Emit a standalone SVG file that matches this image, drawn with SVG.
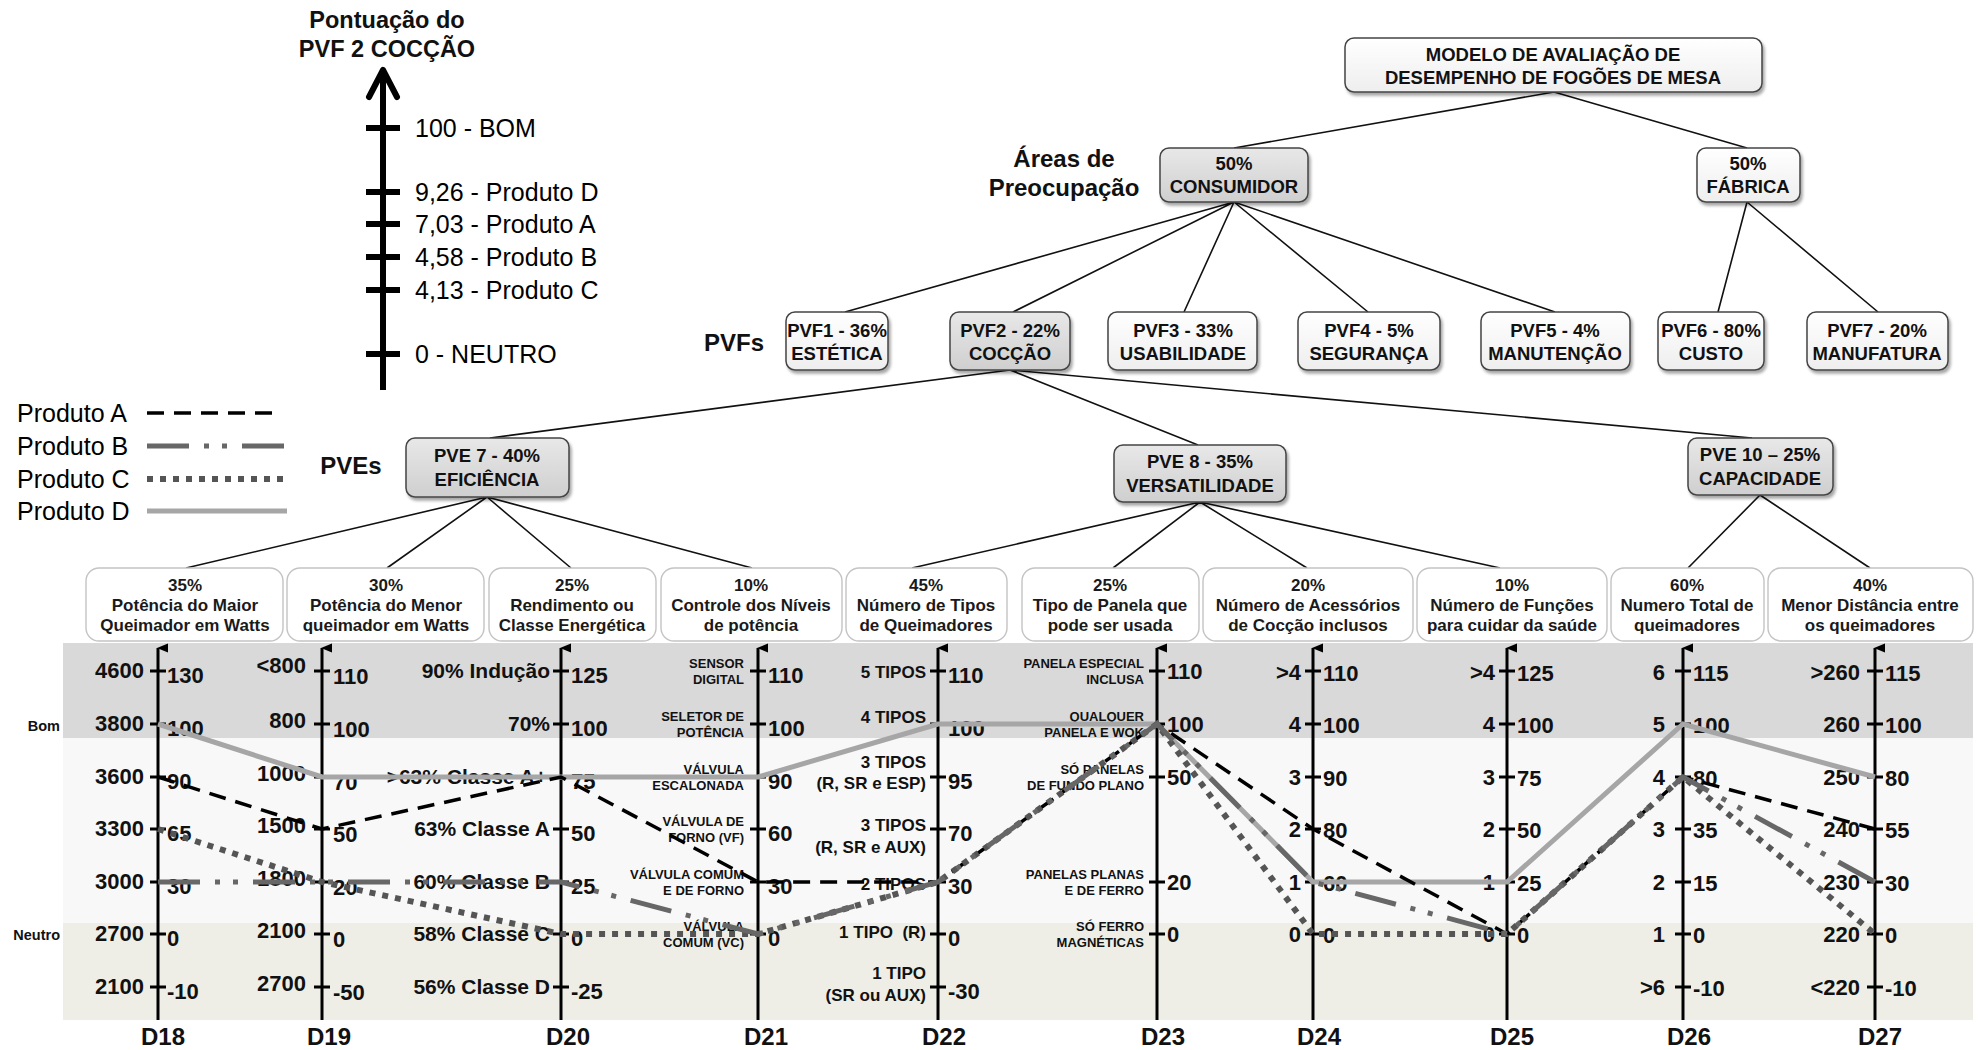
<svg xmlns="http://www.w3.org/2000/svg" width="1981" height="1050" viewBox="0 0 1981 1050">
  <defs>
    <style>
      .tNode { font: bold 18.5px "Liberation Sans", Arial, sans-serif; text-anchor: middle; fill: #111; }
      .tLvl { font: bold 24px "Liberation Sans", Arial, sans-serif; text-anchor: middle; fill: #111; }
      .tCrit { font: bold 17px "Liberation Sans", Arial, sans-serif; text-anchor: middle; fill: #1a1a1a; }
      .tNumL { font: bold 22px "Liberation Sans", Arial, sans-serif; text-anchor: end; fill: #111; }
      .tNumR { font: bold 22px "Liberation Sans", Arial, sans-serif; text-anchor: start; fill: #111; }
      .tCap { font: bold 13px "Liberation Sans", Arial, sans-serif; text-anchor: end; fill: #111; }
      .tCls { font: bold 21px "Liberation Sans", Arial, sans-serif; text-anchor: end; fill: #111; }
      .tTip { font: bold 17px "Liberation Sans", Arial, sans-serif; text-anchor: end; fill: #111; white-space: pre; }
      .tAxis { font: bold 24px "Liberation Sans", Arial, sans-serif; text-anchor: middle; fill: #111; }
      .tScale { font: 25px "Liberation Sans", Arial, sans-serif; fill: #000; }
      .tBand { font: bold 14.5px "Liberation Sans", Arial, sans-serif; text-anchor: end; fill: #111; }
      .box { stroke: #444; stroke-width: 1.5; filter: url(#shadow); }
      .wbox { fill: url(#gWhite); }
      .gbox { fill: url(#gGray); }
      .crit { fill: #fff; stroke: #c4c4c4; stroke-width: 1.4; }
      .link { stroke: #111; stroke-width: 1.6; fill: none; }
      .axis { stroke: #000; stroke-width: 3; fill: none; }
      .tick { stroke: #000; stroke-width: 3; fill: none; }
      .pA { stroke: #000; stroke-width: 3.5; stroke-dasharray: 17 10; fill: none; }
      .pB { stroke: #676767; stroke-width: 5; stroke-dasharray: 42 15 5 13 5 15; fill: none; }
      .pC { stroke: #555; stroke-width: 6; stroke-dasharray: 6 7; fill: none; }
      .pD { stroke: #a6a6a6; stroke-width: 5; fill: none; }
    </style>
    <linearGradient id="gWhite" x1="0" y1="0" x2="0" y2="1">
      <stop offset="0" stop-color="#ffffff"/>
      <stop offset="1" stop-color="#eeeeee"/>
    </linearGradient>
    <linearGradient id="gGray" x1="0" y1="0" x2="0" y2="1">
      <stop offset="0" stop-color="#e8e8e8"/>
      <stop offset="1" stop-color="#cfcfcf"/>
    </linearGradient>
    <filter id="shadow" x="-10%" y="-15%" width="125%" height="145%">
      <feDropShadow dx="2" dy="3" stdDeviation="1.5" flood-color="#000" flood-opacity="0.35"/>
    </filter>
    <marker id="axisHead" markerWidth="10" markerHeight="12" refX="5" refY="1" orient="auto-start-reverse" markerUnits="userSpaceOnUse" viewBox="0 0 10 12">
      <path d="M5 0 L9.5 11 L0.5 11 Z" fill="#000"/>
    </marker>
  </defs>

  <rect width="1981" height="1050" fill="#fff"/>

  <!-- score scale of PVF 2 -->
  <g id="score-scale">
    <text class="tLvl" x="387" y="28" style="font-size:23.5px">Pontuação do</text>
    <text class="tLvl" x="387" y="57" style="font-size:23.5px">PVF 2 COCÇÃO</text>
    <line x1="383" y1="73" x2="383" y2="390" stroke="#000" stroke-width="6"/>
    <polyline points="369,97 383,70 397,97" fill="none" stroke="#000" stroke-width="6" stroke-linecap="round" stroke-linejoin="round"/>
    <path d="M366 128 H400 M366 192 H400 M366 224 H400 M366 257 H400 M366 290 H400 M366 354 H400" stroke="#000" stroke-width="6"/>
    <text class="tScale" x="415" y="137">100 - BOM</text>
    <text class="tScale" x="415" y="201">9,26 - Produto D</text>
    <text class="tScale" x="415" y="233">7,03 - Produto A</text>
    <text class="tScale" x="415" y="266">4,58 - Produto B</text>
    <text class="tScale" x="415" y="299">4,13 - Produto C</text>
    <text class="tScale" x="415" y="363">0 - NEUTRO</text>
  </g>

  <!-- legend -->
  <g id="legend">
    <text class="tScale" x="17" y="422">Produto A</text>
    <text class="tScale" x="17" y="455">Produto B</text>
    <text class="tScale" x="17" y="488">Produto C</text>
    <text class="tScale" x="17" y="520">Produto D</text>
    <line class="pA" x1="147" y1="413" x2="274" y2="413"/>
    <line class="pB" x1="147" y1="446" x2="287" y2="446"/>
    <line class="pC" x1="147" y1="479" x2="287" y2="479"/>
    <line class="pD" x1="147" y1="511" x2="287" y2="511"/>
  </g>

  <!-- level captions -->
  <g id="level-labels">
    <text class="tLvl" x="1064" y="167">Áreas de</text>
    <text class="tLvl" x="1064" y="196">Preocupação</text>
    <text class="tLvl" x="734" y="351">PVFs</text>
    <text class="tLvl" x="351" y="474">PVEs</text>
  </g>

  <!-- tree connectors -->
  <g id="connectors" class="link">
    <path d="M1554 92 L1234 148 M1554 92 L1747 148"/>
    <path d="M1234 202 L845 312 M1234 202 L1013 312 M1234 202 L1184 312 M1234 202 L1368 312 M1234 202 L1555 312"/>
    <path d="M1747 202 L1718 312 M1747 202 L1878 312"/>
    <path d="M1010 370 L490 438 M1010 370 L1198 445 M1010 370 L1752 438"/>
    <path d="M487 497 L186 568 M487 497 L387 568 M487 497 L571 568 M487 497 L752 568"/>
    <path d="M1200 502 L912 568 M1200 502 L1113 568 M1200 502 L1307 568 M1200 502 L1500 568"/>
    <path d="M1760 495 L1688 568 M1760 495 L1870 568"/>
  </g>

  <!-- root -->
  <g id="node-modelo">
    <rect class="box wbox" x="1345" y="38" width="417" height="54" rx="9"/>
    <text class="tNode" x="1553" y="61">MODELO DE AVALIAÇÃO DE</text>
    <text class="tNode" x="1553" y="84">DESEMPENHO DE FOGÕES DE MESA</text>
  </g>

  <!-- areas of concern -->
  <g id="node-consumidor">
    <rect class="box gbox" x="1160" y="148" width="148" height="54" rx="9"/>
    <text class="tNode" x="1234" y="170">50%</text>
    <text class="tNode" x="1234" y="193">CONSUMIDOR</text>
  </g>
  <g id="node-fabrica">
    <rect class="box wbox" x="1697" y="148" width="103" height="54" rx="9"/>
    <text class="tNode" x="1748" y="170">50%</text>
    <text class="tNode" x="1748" y="193">FÁBRICA</text>
  </g>

  <!-- PVFs -->
  <g id="node-pvf1">
    <rect class="box wbox" x="786" y="312" width="102" height="58" rx="9"/>
    <text class="tNode" x="837" y="337">PVF1 - 36%</text>
    <text class="tNode" x="837" y="360">ESTÉTICA</text>
  </g>
  <g id="node-pvf2">
    <rect class="box gbox" x="950" y="312" width="120" height="58" rx="9"/>
    <text class="tNode" x="1010" y="337">PVF2 - 22%</text>
    <text class="tNode" x="1010" y="360">COCÇÃO</text>
  </g>
  <g id="node-pvf3">
    <rect class="box wbox" x="1108" y="312" width="149" height="58" rx="9"/>
    <text class="tNode" x="1183" y="337">PVF3 - 33%</text>
    <text class="tNode" x="1183" y="360">USABILIDADE</text>
  </g>
  <g id="node-pvf4">
    <rect class="box wbox" x="1298" y="312" width="142" height="58" rx="9"/>
    <text class="tNode" x="1369" y="337">PVF4 - 5%</text>
    <text class="tNode" x="1369" y="360">SEGURANÇA</text>
  </g>
  <g id="node-pvf5">
    <rect class="box wbox" x="1481" y="312" width="149" height="58" rx="9"/>
    <text class="tNode" x="1555" y="337">PVF5 - 4%</text>
    <text class="tNode" x="1555" y="360">MANUTENÇÃO</text>
  </g>
  <g id="node-pvf6">
    <rect class="box wbox" x="1658" y="312" width="106" height="58" rx="9"/>
    <text class="tNode" x="1711" y="337">PVF6 - 80%</text>
    <text class="tNode" x="1711" y="360">CUSTO</text>
  </g>
  <g id="node-pvf7">
    <rect class="box wbox" x="1807" y="312" width="141" height="58" rx="9"/>
    <text class="tNode" x="1877" y="337">PVF7 - 20%</text>
    <text class="tNode" x="1877" y="360">MANUFATURA</text>
  </g>

  <!-- PVEs -->
  <g id="node-pve7">
    <rect class="box gbox" x="406" y="438" width="163" height="59" rx="9"/>
    <text class="tNode" x="487" y="462">PVE 7 - 40%</text>
    <text class="tNode" x="487" y="486">EFICIÊNCIA</text>
  </g>
  <g id="node-pve8">
    <rect class="box gbox" x="1114" y="445" width="172" height="57" rx="9"/>
    <text class="tNode" x="1200" y="468">PVE 8 - 35%</text>
    <text class="tNode" x="1200" y="492">VERSATILIDADE</text>
  </g>
  <g id="node-pve10">
    <rect class="box gbox" x="1688" y="438" width="145" height="57" rx="9"/>
    <text class="tNode" x="1760" y="461">PVE 10 – 25%</text>
    <text class="tNode" x="1760" y="485">CAPACIDADE</text>
  </g>

  <!-- criteria -->
  <g id="node-d18">
    <rect class="crit" x="86" y="568" width="197" height="73" rx="13"/>
    <text class="tCrit" x="185" y="591">35%</text>
    <text class="tCrit" x="185" y="611">Potência do Maior</text>
    <text class="tCrit" x="185" y="631">Queimador em Watts</text>
  </g>
  <g id="node-d19">
    <rect class="crit" x="287" y="568" width="197" height="73" rx="13"/>
    <text class="tCrit" x="386" y="591">30%</text>
    <text class="tCrit" x="386" y="611">Potência do Menor</text>
    <text class="tCrit" x="386" y="631">queimador em Watts</text>
  </g>
  <g id="node-d20">
    <rect class="crit" x="489" y="568" width="167" height="73" rx="13"/>
    <text class="tCrit" x="572" y="591">25%</text>
    <text class="tCrit" x="572" y="611">Rendimento ou</text>
    <text class="tCrit" x="572" y="631">Classe Energética</text>
  </g>
  <g id="node-d21">
    <rect class="crit" x="661" y="568" width="181" height="73" rx="13"/>
    <text class="tCrit" x="751" y="591">10%</text>
    <text class="tCrit" x="751" y="611">Controle dos Níveis</text>
    <text class="tCrit" x="751" y="631">de potência</text>
  </g>
  <g id="node-d22">
    <rect class="crit" x="846" y="568" width="161" height="73" rx="13"/>
    <text class="tCrit" x="926" y="591">45%</text>
    <text class="tCrit" x="926" y="611">Número de Tipos</text>
    <text class="tCrit" x="926" y="631">de Queimadores</text>
  </g>
  <g id="node-d23">
    <rect class="crit" x="1022" y="568" width="177" height="73" rx="13"/>
    <text class="tCrit" x="1110" y="591">25%</text>
    <text class="tCrit" x="1110" y="611">Tipo de Panela que</text>
    <text class="tCrit" x="1110" y="631">pode ser usada</text>
  </g>
  <g id="node-d24">
    <rect class="crit" x="1203" y="568" width="210" height="73" rx="13"/>
    <text class="tCrit" x="1308" y="591">20%</text>
    <text class="tCrit" x="1308" y="611">Número de Acessórios</text>
    <text class="tCrit" x="1308" y="631">de Cocção inclusos</text>
  </g>
  <g id="node-d25">
    <rect class="crit" x="1417" y="568" width="190" height="73" rx="13"/>
    <text class="tCrit" x="1512" y="591">10%</text>
    <text class="tCrit" x="1512" y="611">Número de Funções</text>
    <text class="tCrit" x="1512" y="631">para cuidar da saúde</text>
  </g>
  <g id="node-d26">
    <rect class="crit" x="1611" y="568" width="153" height="73" rx="13"/>
    <text class="tCrit" x="1687" y="591">60%</text>
    <text class="tCrit" x="1687" y="611">Numero Total de</text>
    <text class="tCrit" x="1687" y="631">queimadores</text>
  </g>
  <g id="node-d27">
    <rect class="crit" x="1768" y="568" width="205" height="73" rx="13"/>
    <text class="tCrit" x="1870" y="591">40%</text>
    <text class="tCrit" x="1870" y="611">Menor Distância entre</text>
    <text class="tCrit" x="1870" y="631">os queimadores</text>
  </g>

  <!-- descriptor chart -->
  <g id="chart">
    <rect x="63" y="643" width="1910" height="95" fill="#d9d9d9"/>
    <rect x="63" y="738" width="1910" height="185" fill="#f8f8f8"/>
    <rect x="63" y="923" width="1910" height="97" fill="#eeeee6"/>
    <text class="tBand" x="60" y="731">Bom</text>
    <text class="tBand" x="60" y="940">Neutro</text>

    <!-- axes -->
    <g class="axis">
      <line x1="158" y1="1020" x2="158" y2="648" marker-end="url(#axisHead)"/>
      <line x1="322" y1="1020" x2="322" y2="648" marker-end="url(#axisHead)"/>
      <line x1="561" y1="1020" x2="561" y2="648" marker-end="url(#axisHead)"/>
      <line x1="758" y1="1020" x2="758" y2="648" marker-end="url(#axisHead)"/>
      <line x1="938" y1="1020" x2="938" y2="648" marker-end="url(#axisHead)"/>
      <line x1="1157" y1="1020" x2="1157" y2="648" marker-end="url(#axisHead)"/>
      <line x1="1313" y1="1020" x2="1313" y2="648" marker-end="url(#axisHead)"/>
      <line x1="1507" y1="1020" x2="1507" y2="648" marker-end="url(#axisHead)"/>
      <line x1="1683" y1="1020" x2="1683" y2="648" marker-end="url(#axisHead)"/>
      <line x1="1875" y1="1020" x2="1875" y2="648" marker-end="url(#axisHead)"/>
    </g>
    <g class="tick">
      <path d="M150 671H166M150 724H166M150 777H166M150 829H166M150 882H166M150 934H166M150 987H166"/>
      <path d="M314 671H330M314 724H330M314 777H330M314 829H330M314 882H330M314 934H330M314 987H330"/>
      <path d="M553 671H569M553 724H569M553 777H569M553 829H569M553 882H569M553 934H569M553 987H569"/>
      <path d="M750 671H766M750 724H766M750 777H766M750 829H766M750 882H766M750 934H766"/>
      <path d="M930 671H946M930 724H946M930 777H946M930 829H946M930 882H946M930 934H946M930 987H946"/>
      <path d="M1149 671H1165M1149 724H1165M1149 777H1165M1149 882H1165M1149 934H1165"/>
      <path d="M1305 671H1321M1305 724H1321M1305 777H1321M1305 829H1321M1305 882H1321M1305 934H1321"/>
      <path d="M1499 671H1515M1499 724H1515M1499 777H1515M1499 829H1515M1499 882H1515M1499 934H1515"/>
      <path d="M1675 671H1691M1675 724H1691M1675 777H1691M1675 829H1691M1675 882H1691M1675 934H1691M1675 987H1691"/>
      <path d="M1867 671H1883M1867 724H1883M1867 777H1883M1867 829H1883M1867 882H1883M1867 934H1883M1867 987H1883"/>
    </g>

    <!-- D18 -->
    <g id="scale-d18">
      <text class="tNumL" x="144" y="678">4600</text>
      <text class="tNumL" x="144" y="731">3800</text>
      <text class="tNumL" x="144" y="784">3600</text>
      <text class="tNumL" x="144" y="836">3300</text>
      <text class="tNumL" x="144" y="889">3000</text>
      <text class="tNumL" x="144" y="941">2700</text>
      <text class="tNumL" x="144" y="994">2100</text>
      <text class="tNumR" x="167" y="683">130</text>
      <text class="tNumR" x="167" y="736">100</text>
      <text class="tNumR" x="167" y="789">90</text>
      <text class="tNumR" x="167" y="841">65</text>
      <text class="tNumR" x="167" y="894">30</text>
      <text class="tNumR" x="167" y="946">0</text>
      <text class="tNumR" x="167" y="999">-10</text>
    </g>
    <!-- D19 -->
    <g id="scale-d19">
      <text class="tNumL" x="306" y="673">&lt;800</text>
      <text class="tNumL" x="306" y="728">800</text>
      <text class="tNumL" x="306" y="781">1000</text>
      <text class="tNumL" x="306" y="833">1500</text>
      <text class="tNumL" x="306" y="886">1800</text>
      <text class="tNumL" x="306" y="938">2100</text>
      <text class="tNumL" x="306" y="991">2700</text>
      <text class="tNumR" x="333" y="684">110</text>
      <text class="tNumR" x="333" y="737">100</text>
      <text class="tNumR" x="333" y="790">70</text>
      <text class="tNumR" x="333" y="842">50</text>
      <text class="tNumR" x="333" y="895">20</text>
      <text class="tNumR" x="333" y="947">0</text>
      <text class="tNumR" x="333" y="1000">-50</text>
    </g>
    <!-- D20 -->
    <g id="scale-d20">
      <text class="tCls" x="550" y="678">90% Indução</text>
      <text class="tCls" x="550" y="731">70%</text>
      <text class="tCls" x="547" y="784">&gt;63% Classe A+</text>
      <text class="tCls" x="550" y="836">63% Classe A</text>
      <text class="tCls" x="550" y="889">60% Classe B</text>
      <text class="tCls" x="550" y="941">58% Classe C</text>
      <text class="tCls" x="550" y="994">56% Classe D</text>
      <text class="tNumR" x="571" y="683">125</text>
      <text class="tNumR" x="571" y="736">100</text>
      <text class="tNumR" x="571" y="789">75</text>
      <text class="tNumR" x="571" y="841">50</text>
      <text class="tNumR" x="571" y="894">25</text>
      <text class="tNumR" x="571" y="946">0</text>
      <text class="tNumR" x="571" y="999">-25</text>
    </g>
    <!-- D21 -->
    <g id="scale-d21">
      <text class="tCap" x="744" y="668">SENSOR</text>
      <text class="tCap" x="744" y="684">DIGITAL</text>
      <text class="tCap" x="744" y="721">SELETOR DE</text>
      <text class="tCap" x="744" y="737">POTÊNCIA</text>
      <text class="tCap" x="744" y="774">VÁLVULA</text>
      <text class="tCap" x="744" y="790">ESCALONADA</text>
      <text class="tCap" x="744" y="826">VÁLVULA DE</text>
      <text class="tCap" x="744" y="842">FORNO (VF)</text>
      <text class="tCap" x="744" y="879">VÁLVULA COMUM</text>
      <text class="tCap" x="744" y="895">E DE FORNO</text>
      <text class="tCap" x="744" y="931">VÁLVULA</text>
      <text class="tCap" x="744" y="947">COMUM (VC)</text>
      <text class="tNumR" x="768" y="683">110</text>
      <text class="tNumR" x="768" y="736">100</text>
      <text class="tNumR" x="768" y="789">90</text>
      <text class="tNumR" x="768" y="841">60</text>
      <text class="tNumR" x="768" y="894">30</text>
      <text class="tNumR" x="768" y="946">0</text>
    </g>
    <!-- D22 -->
    <g id="scale-d22">
      <text class="tTip" x="926" y="678">5 TIPOS</text>
      <text class="tTip" x="926" y="723">4 TIPOS</text>
      <text class="tTip" x="926" y="768">3 TIPOS</text>
      <text class="tTip" x="926" y="789">(R, SR e ESP)</text>
      <text class="tTip" x="926" y="831">3 TIPOS</text>
      <text class="tTip" x="926" y="853">(R, SR e AUX)</text>
      <text class="tTip" x="926" y="890">2 TIPOS</text>
      <text class="tTip" x="926" y="938">1 TIPO  (R)</text>
      <text class="tTip" x="926" y="979">1 TIPO</text>
      <text class="tTip" x="926" y="1001">(SR ou AUX)</text>
      <text class="tNumR" x="948" y="683">110</text>
      <text class="tNumR" x="948" y="736">100</text>
      <text class="tNumR" x="948" y="789">95</text>
      <text class="tNumR" x="948" y="841">70</text>
      <text class="tNumR" x="948" y="894">30</text>
      <text class="tNumR" x="948" y="946">0</text>
      <text class="tNumR" x="948" y="999">-30</text>
    </g>
    <!-- D23 -->
    <g id="scale-d23">
      <text class="tCap" x="1144" y="668">PANELA ESPECIAL</text>
      <text class="tCap" x="1144" y="684">INCLUSA</text>
      <text class="tCap" x="1144" y="721">QUALQUER</text>
      <text class="tCap" x="1144" y="737">PANELA E WOK</text>
      <text class="tCap" x="1144" y="774">SÓ PANELAS</text>
      <text class="tCap" x="1144" y="790">DE FUNDO PLANO</text>
      <text class="tCap" x="1144" y="879">PANELAS PLANAS</text>
      <text class="tCap" x="1144" y="895">E DE FERRO</text>
      <text class="tCap" x="1144" y="931">SÓ FERRO</text>
      <text class="tCap" x="1144" y="947">MAGNÉTICAS</text>
      <text class="tNumR" x="1167" y="679">110</text>
      <text class="tNumR" x="1167" y="732">100</text>
      <text class="tNumR" x="1167" y="785">50</text>
      <text class="tNumR" x="1167" y="890">20</text>
      <text class="tNumR" x="1167" y="942">0</text>
    </g>
    <!-- D24 -->
    <g id="scale-d24">
      <text class="tNumL" x="1301" y="680">&gt;4</text>
      <text class="tNumL" x="1301" y="732">4</text>
      <text class="tNumL" x="1301" y="785">3</text>
      <text class="tNumL" x="1301" y="837">2</text>
      <text class="tNumL" x="1301" y="890">1</text>
      <text class="tNumL" x="1301" y="942">0</text>
      <text class="tNumR" x="1323" y="681">110</text>
      <text class="tNumR" x="1323" y="733">100</text>
      <text class="tNumR" x="1323" y="786">90</text>
      <text class="tNumR" x="1323" y="838">80</text>
      <text class="tNumR" x="1323" y="891">60</text>
      <text class="tNumR" x="1323" y="943">0</text>
    </g>
    <!-- D25 -->
    <g id="scale-d25">
      <text class="tNumL" x="1495" y="680">&gt;4</text>
      <text class="tNumL" x="1495" y="732">4</text>
      <text class="tNumL" x="1495" y="785">3</text>
      <text class="tNumL" x="1495" y="837">2</text>
      <text class="tNumL" x="1495" y="890">1</text>
      <text class="tNumL" x="1495" y="942">0</text>
      <text class="tNumR" x="1517" y="681">125</text>
      <text class="tNumR" x="1517" y="733">100</text>
      <text class="tNumR" x="1517" y="786">75</text>
      <text class="tNumR" x="1517" y="838">50</text>
      <text class="tNumR" x="1517" y="891">25</text>
      <text class="tNumR" x="1517" y="943">0</text>
    </g>
    <!-- D26 -->
    <g id="scale-d26">
      <text class="tNumL" x="1665" y="680">6</text>
      <text class="tNumL" x="1665" y="732">5</text>
      <text class="tNumL" x="1665" y="785">4</text>
      <text class="tNumL" x="1665" y="837">3</text>
      <text class="tNumL" x="1665" y="890">2</text>
      <text class="tNumL" x="1665" y="942">1</text>
      <text class="tNumL" x="1665" y="995">&gt;6</text>
      <text class="tNumR" x="1693" y="681">115</text>
      <text class="tNumR" x="1693" y="733">100</text>
      <text class="tNumR" x="1693" y="786">80</text>
      <text class="tNumR" x="1693" y="838">35</text>
      <text class="tNumR" x="1693" y="891">15</text>
      <text class="tNumR" x="1693" y="943">0</text>
      <text class="tNumR" x="1693" y="996">-10</text>
    </g>
    <!-- D27 -->
    <g id="scale-d27">
      <text class="tNumL" x="1860" y="680">&gt;260</text>
      <text class="tNumL" x="1860" y="732">260</text>
      <text class="tNumL" x="1860" y="785">250</text>
      <text class="tNumL" x="1860" y="837">240</text>
      <text class="tNumL" x="1860" y="890">230</text>
      <text class="tNumL" x="1860" y="942">220</text>
      <text class="tNumL" x="1860" y="995">&lt;220</text>
      <text class="tNumR" x="1885" y="681">115</text>
      <text class="tNumR" x="1885" y="733">100</text>
      <text class="tNumR" x="1885" y="786">80</text>
      <text class="tNumR" x="1885" y="838">55</text>
      <text class="tNumR" x="1885" y="891">30</text>
      <text class="tNumR" x="1885" y="943">0</text>
      <text class="tNumR" x="1885" y="996">-10</text>
    </g>

    <!-- descriptor names -->
    <g id="descriptor-names">
      <text class="tAxis" x="163" y="1045">D18</text>
      <text class="tAxis" x="329" y="1045">D19</text>
      <text class="tAxis" x="568" y="1045">D20</text>
      <text class="tAxis" x="766" y="1045">D21</text>
      <text class="tAxis" x="944" y="1045">D22</text>
      <text class="tAxis" x="1163" y="1045">D23</text>
      <text class="tAxis" x="1319" y="1045">D24</text>
      <text class="tAxis" x="1512" y="1045">D25</text>
      <text class="tAxis" x="1689" y="1045">D26</text>
      <text class="tAxis" x="1880" y="1045">D27</text>
    </g>

    <!-- product profiles (A beneath the grey profiles where they coincide) -->
    <g id="profiles">
      <polyline id="produto-d" class="pD" points="158,724 322,777 561,777 758,777 938,724 1157,724 1313,882 1507,882 1683,724 1875,777"/>
      <polyline id="produto-a" class="pA" points="158,777 322,829 561,777 758,882 938,882 1157,724 1313,829 1507,934 1683,777 1875,829"/>
      <polyline id="produto-c" class="pC" points="158,829 322,882 561,934 758,934 938,882 1157,724 1313,934 1507,934 1683,777 1875,934"/>
      <polyline id="produto-b" class="pB" points="158,882 322,882 561,882 758,934 938,882 1157,724 1313,882 1507,934 1683,777 1875,882"/>
    </g>
  </g>
</svg>
